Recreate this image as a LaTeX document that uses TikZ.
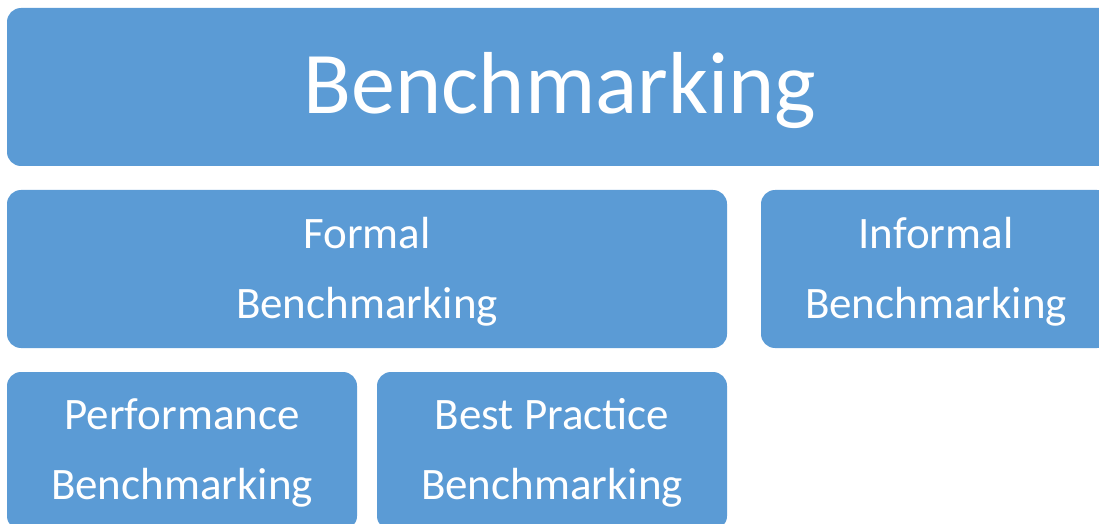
\documentclass[tikz,border=0pt]{standalone}
\usepackage{fontspec}
\setmainfont{Carlito}
\definecolor{boxblue}{HTML}{5B9BD5}
\tikzset{bbox/.style={fill=boxblue,rounded corners=7pt,text=white,align=center,inner sep=0pt}}
\tikzset{bigtext/.style={font=\fontsize{44}{52}\selectfont}}
\tikzset{boxtext/.style={font=\fontsize{22.5}{35}\selectfont}}

\begin{document}
\begin{tikzpicture}[x=0.5pt,y=-0.5pt]
  % fix the page
  \useasboundingbox (0,0) rectangle (1099,524);
  \clip (0,0) rectangle (1099,524);
  % top level
  \fill[boxblue,rounded corners=7pt] (7,8) rectangle (1113,166);
  \node[text=white,bigtext,inner sep=0pt] (bench) at (560,91) {Benchmarking};
  % second row
  \node[bbox,boxtext,minimum width=360pt,minimum height=79pt] (formal) at (367,269) {};
  \node[text=white,boxtext,align=center,inner sep=0pt] (formaltxt) at (367,272) {Formal\\Benchmarking};
  \node[bbox,boxtext,minimum width=175pt,minimum height=79pt] (informal) at (936,269) {};
  \node[text=white,boxtext,align=center,inner sep=0pt] (informaltxt) at (936,272) {Informal\\Benchmarking};
  % third row
  \node[bbox,boxtext,minimum width=175pt,minimum height=79pt] (perf) at (182,451) {};
  \node[text=white,boxtext,align=center,inner sep=0pt] (perftxt) at (182,453) {Performance\\Benchmarking};
  \node[bbox,boxtext,minimum width=175pt,minimum height=79pt] (best) at (552,451) {};
  \node[text=white,boxtext,align=center,inner sep=0pt] (besttxt) at (552,453) {Best Practice\\Benchmarking};
\end{tikzpicture}
\end{document}
